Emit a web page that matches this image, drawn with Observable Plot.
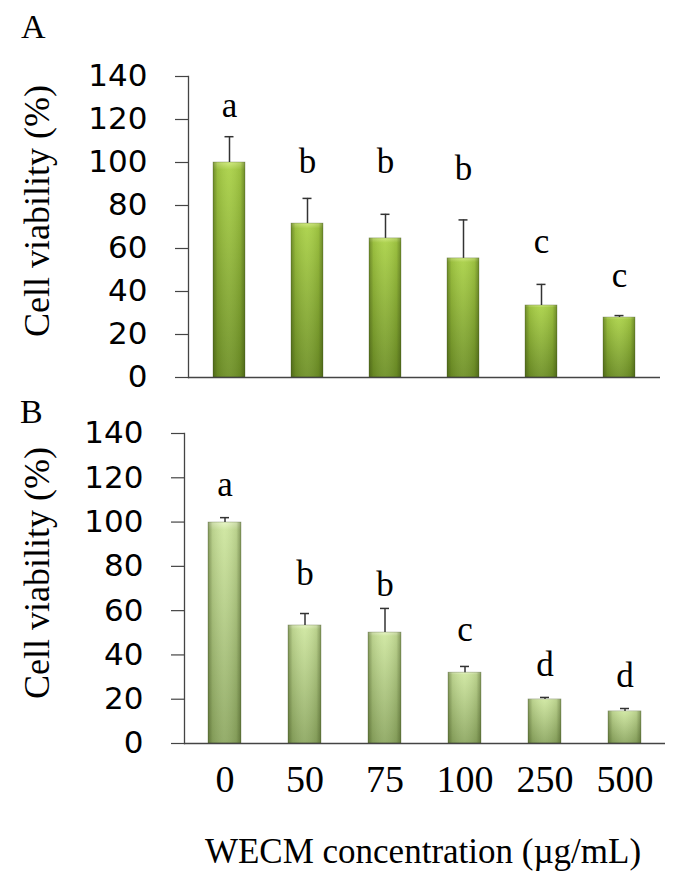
<!DOCTYPE html>
<html>
<head>
<meta charset="utf-8">
<script src="https://cdn.jsdelivr.net/npm/d3@7"></script>
<script src="https://cdn.jsdelivr.net/npm/@observablehq/plot@0.6"></script>
<style>
  html, body { margin: 0; padding: 0; background: white; }
  #wrap { position: relative; width: 680px; height: 882px; overflow: hidden; background: white; }
  g[aria-label="bar-base"] { filter: drop-shadow(2px 1px 1.5px rgba(0,0,0,0.45)); }
  #overlay { position: absolute; left: 0; top: 0; pointer-events: none; }
</style>
</head>
<body>
<div id="wrap"></div>
<script>
// ---- data ----
const concentrations = ["0", "50", "75", "100", "250", "500"];
const yTicks = [0, 20, 40, 60, 80, 100, 120, 140];

const viabilityA = [100, 71.6, 64.7, 55.4, 33.5, 27.9];
const sdA = [12, 11.7, 11.2, 17.9, 9.8, 0.9];
const lettersA = ["a", "b", "b", "b", "c", "c"];
const letterPosA = [121, 95, 95, 92, 58, 42];

const viabilityB = [99.8, 53.3, 50.1, 32, 19.9, 14.5];
const sdB = [2.2, 5.4, 10.9, 2.8, 0.9, 1.3];
const lettersB = ["a", "b", "b", "c", "d", "d"];
const letterPosB = [112, 71.4, 66.8, 46.5, 30.7, 25.3];

const yTitle = "Cell viability (%)";
const xTitle = "WECM concentration (\u00b5g/mL)";

function table(values, sds, letters, lpos) {
  return concentrations.map((c, i) => ({c, v: values[i], sd: sds[i], l: letters[i], ly: lpos[i]}));
}

function panel({data, id, top, height, mt, mb, ml, mr, showX, c0, c1, c2, capInset}) {
  const marks = [
    Plot.barY(data, {x: "c", y: "v", fill: `url(#v${id})`, ariaLabel: "bar-base"}),
    Plot.barY(data, {x: "c", y: "v", fill: `url(#h${id})`, stroke: "rgba(50,70,20,0.45)", strokeWidth: 0.6}),
    Plot.ruleX(data, {x: "c", y1: "v", y2: d => d.v + d.sd, stroke: "#333", strokeWidth: 1.5}),
    Plot.tickY(data, {x: "c", y: d => d.v + d.sd, insetLeft: capInset, insetRight: capInset, stroke: "#333", strokeWidth: 1.5}),
    Plot.text(data, {x: "c", y: "ly", text: "l", lineAnchor: "bottom", fontSize: 35, fontFamily: "Liberation Serif", fill: "#000"}),
    Plot.axisY({ticks: yTicks, tickSize: 13, tickPadding: 28, fontSize: 31, fontFamily: "DejaVu Sans", label: null, stroke: "#444", strokeWidth: 1.2, fill: "#000"}),
    Plot.frame({anchor: "left", stroke: "#444", strokeWidth: 1.3}),
    Plot.ruleY([0], {stroke: "#444", strokeWidth: 1.5})
  ];
  if (showX) marks.push(Plot.axisX({tickSize: 0, tickPadding: 22, fontSize: 38, fontFamily: "Liberation Serif", label: null, fill: "#000"}));
  const svg = Plot.plot({
    width: 680, height,
    marginTop: mt, marginBottom: mb, marginLeft: ml, marginRight: mr,
    style: {position: "absolute", top: top + "px", left: "0px", background: "transparent", overflow: "visible"},
    x: {domain: concentrations, paddingInner: 0.59, paddingOuter: 0.295, axis: showX ? undefined : null},
    y: {domain: [0, 140]},
    marks
  });
  const defs = `<defs>
    <linearGradient id="v${id}" x1="0" y1="0" x2="0" y2="1">
      <stop offset="0" stop-color="${c0}"/>
      <stop offset="0.035" stop-color="${c1}"/>
      <stop offset="1" stop-color="${c2}"/>
    </linearGradient>
    <linearGradient id="h${id}" x1="0" y1="0" x2="1" y2="0">
      <stop offset="0" stop-color="rgb(40,55,10)" stop-opacity="0.45"/>
      <stop offset="0.14" stop-color="rgb(40,55,10)" stop-opacity="0.12"/>
      <stop offset="0.5" stop-color="rgb(255,255,255)" stop-opacity="0.06"/>
      <stop offset="0.86" stop-color="rgb(40,55,10)" stop-opacity="0.12"/>
      <stop offset="1" stop-color="rgb(40,55,10)" stop-opacity="0.45"/>
    </linearGradient>
  </defs>`;
  svg.insertAdjacentHTML("afterbegin", defs);
  return svg;
}

const wrap = document.getElementById("wrap");
wrap.appendChild(panel({
  data: table(viabilityA, sdA, lettersA, letterPosA), id: "A",
  top: 0, height: 395, mt: 76, mb: 18, ml: 188, mr: 20, showX: false,
  c0: "#cde878", c1: "#a9d046", c2: "#6e9026", capInset: 11.5
}));
wrap.appendChild(panel({
  data: table(viabilityB, sdB, lettersB, letterPosB), id: "B",
  top: 380, height: 420, mt: 53, mb: 57, ml: 184, mr: 15, showX: true,
  c0: "#e6f4c4", c1: "#cde59e", c2: "#8ea862", capInset: 12
}));

// titles / panel letters
const ns = "http://www.w3.org/2000/svg";
const ov = document.createElementNS(ns, "svg");
ov.setAttribute("id", "overlay");
ov.setAttribute("width", 680);
ov.setAttribute("height", 882);
function addText(str, x, y, size, opts = {}) {
  const t = document.createElementNS(ns, "text");
  t.textContent = str;
  t.setAttribute("x", x);
  t.setAttribute("y", y);
  t.setAttribute("font-family", "Liberation Serif");
  t.setAttribute("font-size", size);
  t.setAttribute("fill", "#000");
  if (opts.anchor) t.setAttribute("text-anchor", opts.anchor);
  if (opts.rotate) t.setAttribute("transform", `rotate(${opts.rotate} ${x} ${y})`);
  ov.appendChild(t);
}
addText("A", 21, 38, 34);
addText("B", 20, 423, 34);
addText(yTitle, 49, 211, 36, {anchor: "middle", rotate: -90});
addText(yTitle, 49, 573, 36, {anchor: "middle", rotate: -90});
addText(xTitle, 423, 863, 35, {anchor: "middle"});
wrap.appendChild(ov);
</script>
</body>
</html>
